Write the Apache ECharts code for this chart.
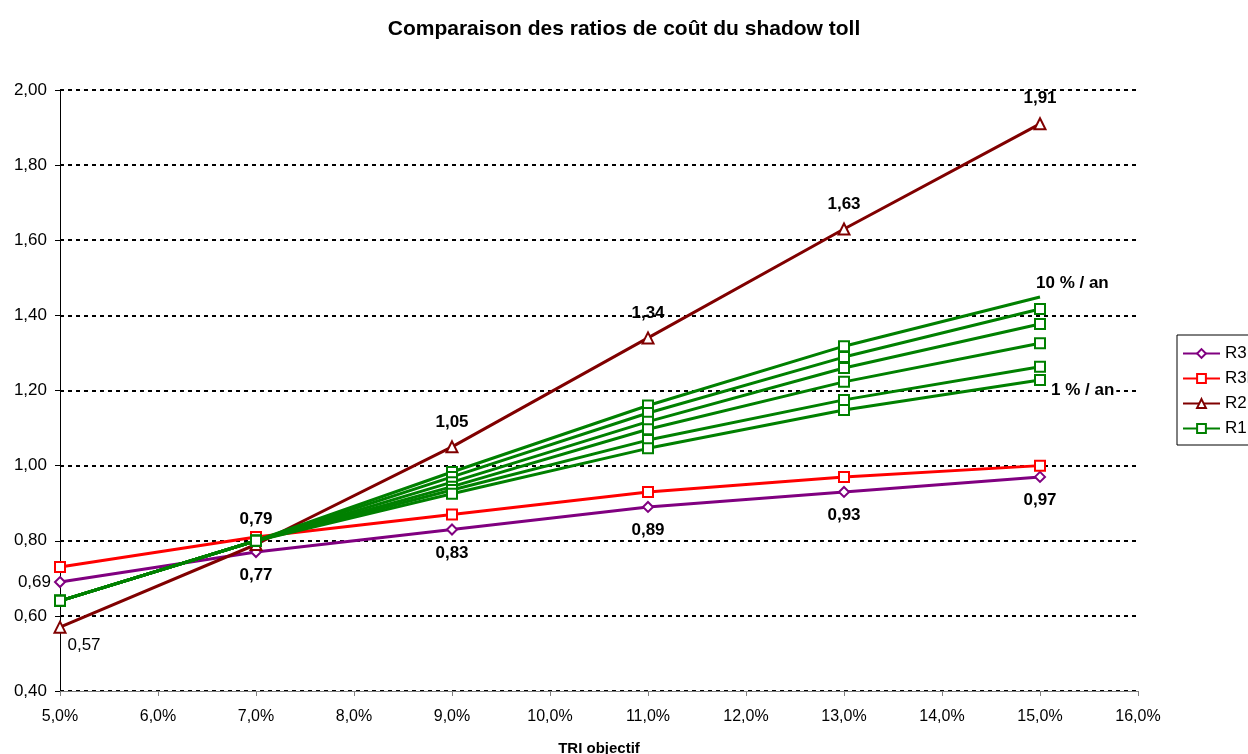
<!DOCTYPE html>
<html>
<head>
<meta charset="utf-8">
<script src="https://cdn.jsdelivr.net/npm/echarts@6/dist/echarts.min.js"></script>
<style>
html,body{margin:0;padding:0;background:#fff;}
#chart{width:1248px;height:754px;}
</style>
</head>
<body>
<div id="chart"></div>
<script>
// TRI objectif (%)
const tri = [5, 7, 9, 11, 13, 15];
const r3 = [0.69, 0.77, 0.83, 0.89, 0.93, 0.97];
const r3bis = [0.73, 0.81, 0.87, 0.93, 0.97, 1.00];
const r2 = [0.57, 0.79, 1.05, 1.34, 1.63, 1.91];
// R1 for several annual growth rates (top = 10 %/an, bottom = 1 %/an)
const r1_a = [0.64, 0.80, 0.983, 1.160, 1.318, 1.449];
const r1_b = [0.64, 0.80, 0.970, 1.140, 1.289, 1.417];
const r1_c = [0.64, 0.80, 0.956, 1.117, 1.260, 1.377];
const r1_d = [0.64, 0.80, 0.944, 1.097, 1.223, 1.326];
const r1_e = [0.64, 0.80, 0.935, 1.068, 1.175, 1.263];
const r1_f = [0.64, 0.80, 0.925, 1.046, 1.148, 1.228];
const seriesNames = ['R3', 'R3bis', 'R2', 'R1'];
const topLabel = '10 % / an';
const bottomLabel = '1 % / an';
const titleText = 'Comparaison des ratios de coût du shadow toll';
const xName = 'TRI objectif';

const FONT = '"Liberation Sans", Arial, sans-serif';
const fmt2 = v => v.toFixed(2).replace('.', ',');
const pairs = arr => arr.map((v, i) => [tri[i], v]);

const lblBase = {show: true, color: '#000', fontFamily: FONT, fontSize: 17, fontWeight: 'bold',
  formatter: p => fmt2(p.value[1])};

const r3Data = pairs(r3).map((d, i) => i === 0
  ? {value: d, label: {position: 'left', distance: 3, fontWeight: 'normal'}}
  : {value: d});
const r2Data = pairs(r2).map((d, i) => i === 0
  ? {value: d, label: {position: 'bottom', distance: 3, offset: [24, 0], fontWeight: 'normal'}}
  : {value: d});

const greens = [r1_a, r1_b, r1_c, r1_d, r1_e, r1_f];
const greenSeries = greens.map((arr, k) => {
  const data = pairs(arr).map((d, i) => {
    const o = {value: d};
    if (i === arr.length - 1 && k === 0) {
      o.itemStyle = {color: 'rgba(0,0,0,0)', borderColor: 'rgba(0,0,0,0)'};
      o.symbol = 'rect';
      o.label = {show: true, position: 'right', distance: 0, offset: [-10, -14],
        color: '#000', fontFamily: FONT, fontSize: 17, fontWeight: 'bold', formatter: topLabel};
    }
    if (i === arr.length - 1 && k === greens.length - 1) {
      o.label = {show: true, position: 'right', distance: 3, offset: [0, 10],
        color: '#000', fontFamily: FONT, fontSize: 17, fontWeight: 'bold', formatter: bottomLabel,
        backgroundColor: '#fff', padding: [0, 2]};
    }
    return o;
  });
  return {
    name: seriesNames[3], type: 'line', data: data,
    symbol: 'emptyRect', symbolSize: 10,
    lineStyle: {color: '#008000', width: 3},
    itemStyle: {color: '#008000', borderWidth: 2},
    label: {show: false},
    emphasis: {disabled: true}, animation: false, z: 5
  };
});

const chart = echarts.init(document.getElementById('chart'), null, {renderer: 'canvas'});
chart.setOption({
  backgroundColor: '#fff',
  animation: false,
  title: {text: titleText, left: 'center', top: 14,
    textStyle: {fontFamily: FONT, fontSize: 21, fontWeight: 'bold', color: '#000'}},
  legend: {
    data: seriesNames,
    left: 1177, top: 335, orient: 'vertical',
    itemWidth: 37, itemHeight: 11, itemGap: 8,
    padding: [10, 10, 8, 5],
    borderColor: '#000', borderWidth: 1,
    textStyle: {fontFamily: FONT, fontSize: 17, color: '#000'}
  },
  grid: {left: 60, right: 110, top: 90, bottom: 63, containLabel: false, outerBoundsMode: 'none'},
  xAxis: {
    type: 'value', min: 5, max: 16, interval: 1,
    name: xName, nameLocation: 'middle', nameGap: 50,
    nameTextStyle: {fontFamily: FONT, fontSize: 15, fontWeight: 'bold', color: '#000'},
    axisLine: {lineStyle: {color: '#808080', width: 1}},
    axisTick: {show: true, length: 5, lineStyle: {color: '#808080'}},
    axisLabel: {fontFamily: FONT, fontSize: 16, color: '#000', margin: 18,
      formatter: v => v.toFixed(1).replace('.', ',') + '%'},
    splitLine: {show: false}
  },
  yAxis: {
    type: 'value', min: 0.4, max: 2.0, interval: 0.2,
    axisLine: {show: true, lineStyle: {color: '#000', width: 1}},
    axisTick: {show: true, length: 5, lineStyle: {color: '#000'}},
    axisLabel: {fontFamily: FONT, fontSize: 17, color: '#000', margin: 13,
      formatter: v => fmt2(v)},
    splitLine: {show: true, lineStyle: {color: '#000', width: 2, type: [4, 4]}}
  },
  series: [
    {name: seriesNames[0], type: 'line', data: r3Data,
      symbol: 'emptyDiamond', symbolSize: 10,
      lineStyle: {color: '#800080', width: 3},
      itemStyle: {color: '#800080', borderWidth: 2},
      label: Object.assign({}, lblBase, {position: 'bottom', distance: 9}),
      emphasis: {disabled: true}, z: 2},
    {name: seriesNames[1], type: 'line', data: pairs(r3bis),
      symbol: 'emptyRect', symbolSize: 10,
      lineStyle: {color: '#FF0000', width: 3},
      itemStyle: {color: '#FF0000', borderWidth: 2},
      label: {show: false},
      emphasis: {disabled: true}, z: 3},
    {name: seriesNames[2], type: 'line', data: r2Data,
      symbol: 'emptyTriangle', symbolSize: 11,
      lineStyle: {color: '#800000', width: 3},
      itemStyle: {color: '#800000', borderWidth: 2},
      label: Object.assign({}, lblBase, {position: 'top', distance: 10}),
      emphasis: {disabled: true}, z: 4}
  ].concat(greenSeries)
});
</script>
</body>
</html>
